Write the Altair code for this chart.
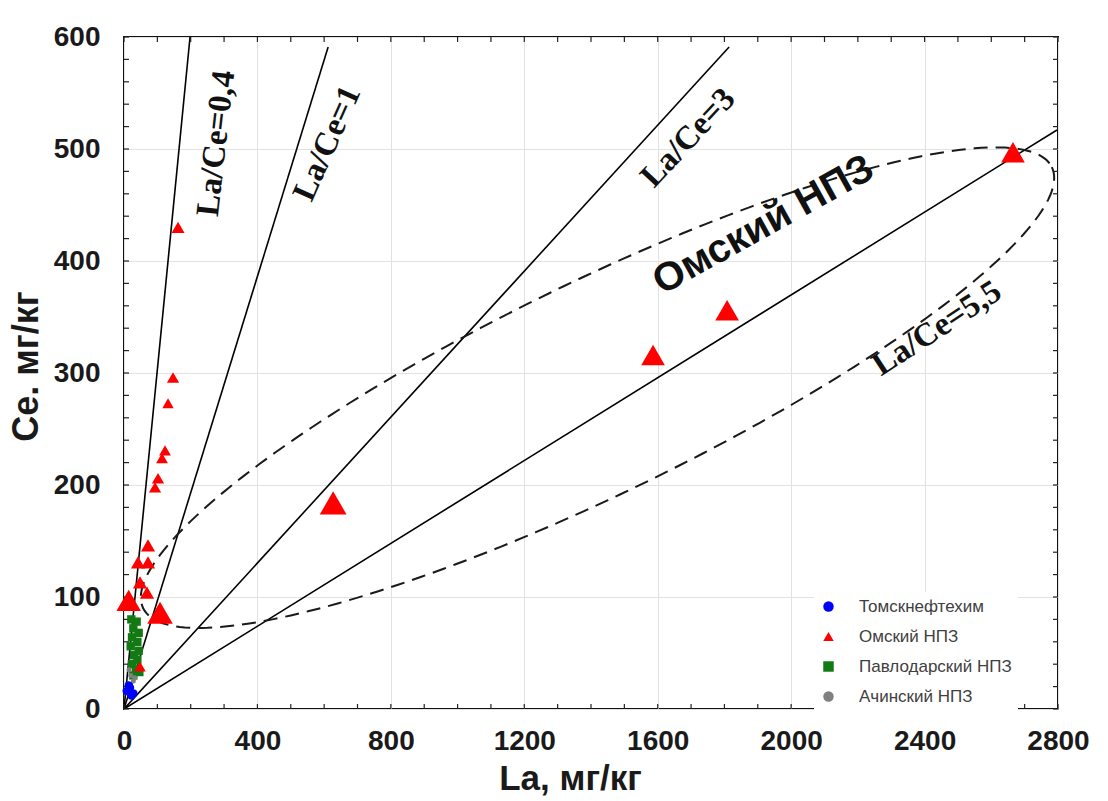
import altair as alt
import pandas as pd
import numpy as np

# ---------------- data ----------------
series_names = ["Томскнефтехим", "Омский НПЗ", "Павлодарский НПЗ", "Ачинский НПЗ"]
series_colors = ["#0000ff", "#ff0000", "#137a13", "#808080"]
series_shapes = ["circle", "triangle-up", "square", "circle"]

tomsk_la = [8, 18, 28, 14, 22]
tomsk_ce = [16, 19, 14, 21, 12]

omsk_la = [2665, 1808, 1586, 627, 162, 147, 132, 123, 114, 102, 93, 72, 42, 72, 48, 69, 14, 108, 48]
omsk_ce = [497, 356, 316, 184, 430, 296, 273, 231, 224, 206, 198, 146, 131, 131, 113, 104, 97, 86, 38]
omsk_sz = [560, 560, 560, 720, 170, 150, 130, 140, 140, 150, 150, 200, 200, 200, 200, 200, 600, 650, 130]

pavl_la = [22, 38, 28, 44, 24, 40, 20, 44, 30, 40, 24, 36, 46, 28]
pavl_ce = [80, 78, 72, 68, 64, 60, 56, 52, 48, 44, 40, 36, 33, 30]

achinsk_la = [20, 28, 15, 32]
achinsk_ce = [30, 25, 35, 28]

# ratio lines La/Ce drawn from the origin to these end points
ratio_names = ["0,4", "1", "3", "5,5"]
ratio_la_end = [198, 612, 1814, 2797]
ratio_ce_end = [600, 591, 591, 517]

# annotation labels
lab_text = ["La/Ce=0,4", "La/Ce=1", "La/Ce=3", "La/Ce=5,5"]
lab_la = [276, 609, 1691, 2437]
lab_ce = [505, 505, 510, 340]
lab_angle = [276.5, 294, 313, 327]

omsk_label = ["Омский НПЗ"]
omsk_label_la = [1917]
omsk_label_ce = [432]
omsk_label_angle = [331]

# dashed ellipse around the Omsk points (centre and conjugate half-axes, data units)
ell_center = (1419.5, 286.9)
ell_axis_a = (1362.0, 196.9)
ell_axis_b = (138.8, -85.2)

x_ticks_major = [0, 400, 800, 1200, 1600, 2000, 2400, 2800]
y_ticks_major = [0, 100, 200, 300, 400, 500, 600]
x_ticks_minor = list(range(0, 2801, 100))
y_ticks_minor = list(range(0, 601, 20))

W, H = 934, 672

# ---------------- tables ----------------
rows = []
for la, ce in zip(pavl_la, pavl_ce):
    rows.append(dict(series=series_names[2], la=la, ce=ce, sz=70))
for la, ce in zip(achinsk_la, achinsk_ce):
    rows.append(dict(series=series_names[3], la=la, ce=ce, sz=25))
for la, ce in zip(tomsk_la, tomsk_ce):
    rows.append(dict(series=series_names[0], la=la, ce=ce, sz=70))
for la, ce, s in zip(omsk_la, omsk_ce, omsk_sz):
    rows.append(dict(series=series_names[1], la=la, ce=ce, sz=s))
pts = pd.DataFrame(rows)

lines = []
for n, la, ce in zip(ratio_names, ratio_la_end, ratio_ce_end):
    lines.append(dict(id=n, la=0, ce=0))
    lines.append(dict(id=n, la=la, ce=ce))
lines = pd.DataFrame(lines)

t = np.linspace(0, 2 * np.pi, 241)
ell = pd.DataFrame({
    "i": np.arange(len(t)),
    "la": ell_center[0] + ell_axis_a[0] * np.cos(t) + ell_axis_b[0] * np.sin(t),
    "ce": ell_center[1] + ell_axis_a[1] * np.cos(t) + ell_axis_b[1] * np.sin(t),
})

labs = pd.DataFrame({"txt": lab_text, "la": lab_la, "ce": lab_ce, "ang": lab_angle})
olab = pd.DataFrame({"txt": omsk_label, "la": omsk_label_la, "ce": omsk_label_ce, "ang": omsk_label_angle})

xt = pd.DataFrame({"la": x_ticks_minor})
yt = pd.DataFrame({"ce": y_ticks_minor})

# ---------------- encodings ----------------
xs = alt.Scale(domain=[0, 2800], nice=False, zero=False)
ys = alt.Scale(domain=[0, 600], nice=False, zero=False)
xaxis = alt.Axis(values=x_ticks_major, format="d", title="La, мг/кг", labelFlush=False,
                 labelPadding=18, titleX=446, titleY=52, titleBaseline="top",
                 titleAlign="center", titleFontSize=35)
yaxis = alt.Axis(values=y_ticks_major, format="d", title="Ce. мг/кг", labelFlush=False,
                 labelPadding=24, titleX=-79, titleY=329, titleAlign="center",
                 titleBaseline="bottom", titleAngle=270, titleFontSize=36)


def X(f="la"):
    return alt.X(f + ":Q", scale=xs, axis=xaxis)


def Y(f="ce"):
    return alt.Y(f + ":Q", scale=ys, axis=yaxis)


ratio_layer = alt.Chart(lines).mark_line(color="black", strokeWidth=1.6, clip=True).encode(
    x=X(), y=Y(), detail="id:N")

ell_layer = alt.Chart(ell).mark_line(color="#1a1a1a", strokeWidth=2, strokeDash=[14, 8]).encode(
    x=X(), y=Y(), order="i:Q")

points = alt.Chart(pts).mark_point(filled=True, opacity=1, strokeWidth=0).encode(
    x=X(), y=Y(),
    color=alt.Color("series:N", scale=alt.Scale(domain=series_names, range=series_colors),
                    legend=alt.Legend(title=None)),
    shape=alt.Shape("series:N", scale=alt.Scale(domain=series_names, range=series_shapes),
                    legend=alt.Legend(title=None)),
    size=alt.Size("sz:Q", scale=None, legend=None),
)

lab_layer = alt.Chart(labs).mark_text(font="Liberation Serif", fontSize=33, fontWeight="bold",
                                      color="#111111").encode(
    x=X(), y=Y(), text="txt:N", angle=alt.Angle("ang:Q", scale=None))

olab_layer = alt.Chart(olab).mark_text(font="Liberation Sans", fontSize=40, fontWeight="bold",
                                       color="#111111").encode(
    x=X(), y=Y(), text="txt:N", angle=alt.Angle("ang:Q", scale=None))

tick_col = "#222222"
tb = alt.Chart(xt).mark_rule(color=tick_col, strokeWidth=1.2).encode(
    x=X(), y=alt.value(H), y2=alt.value(H - 5))
tt = alt.Chart(xt).mark_rule(color=tick_col, strokeWidth=1.2).encode(
    x=X(), y=alt.value(0), y2=alt.value(5))
tl = alt.Chart(yt).mark_rule(color=tick_col, strokeWidth=1.2).encode(
    y=Y(), x=alt.value(0), x2=alt.value(5))
tr = alt.Chart(yt).mark_rule(color=tick_col, strokeWidth=1.2).encode(
    y=Y(), x=alt.value(W - 5), x2=alt.value(W))

chart = alt.layer(ratio_layer, ell_layer, tb, tt, tl, tr, points, lab_layer, olab_layer).properties(
    width=W, height=H,
    autosize=alt.AutoSizeParams(type="none"),
    padding={"left": 124, "top": 37, "right": 50, "bottom": 92},
    background="white",
).configure_view(
    stroke="#111111", strokeWidth=2
).configure_axis(
    grid=True, gridColor="#e2e2e2", gridWidth=1,
    domain=False, ticks=False, tickSize=0,
    labelFont="Liberation Sans", labelFontSize=28, labelFontWeight="bold", labelColor="#1a1a1a",
    titleFont="Liberation Sans", titleFontWeight="bold", titleColor="#1a1a1a",
).configure_legend(
    orient="none", legendX=690, legendY=555, fillColor="white", padding=6,
    labelFont="Liberation Sans", labelFontSize=17, labelColor="#404040",
    symbolSize=110, rowPadding=12, labelOffset=22, symbolStrokeWidth=0,
)

chart.save("out.html", embed_options={"renderer": "svg", "actions": False})
